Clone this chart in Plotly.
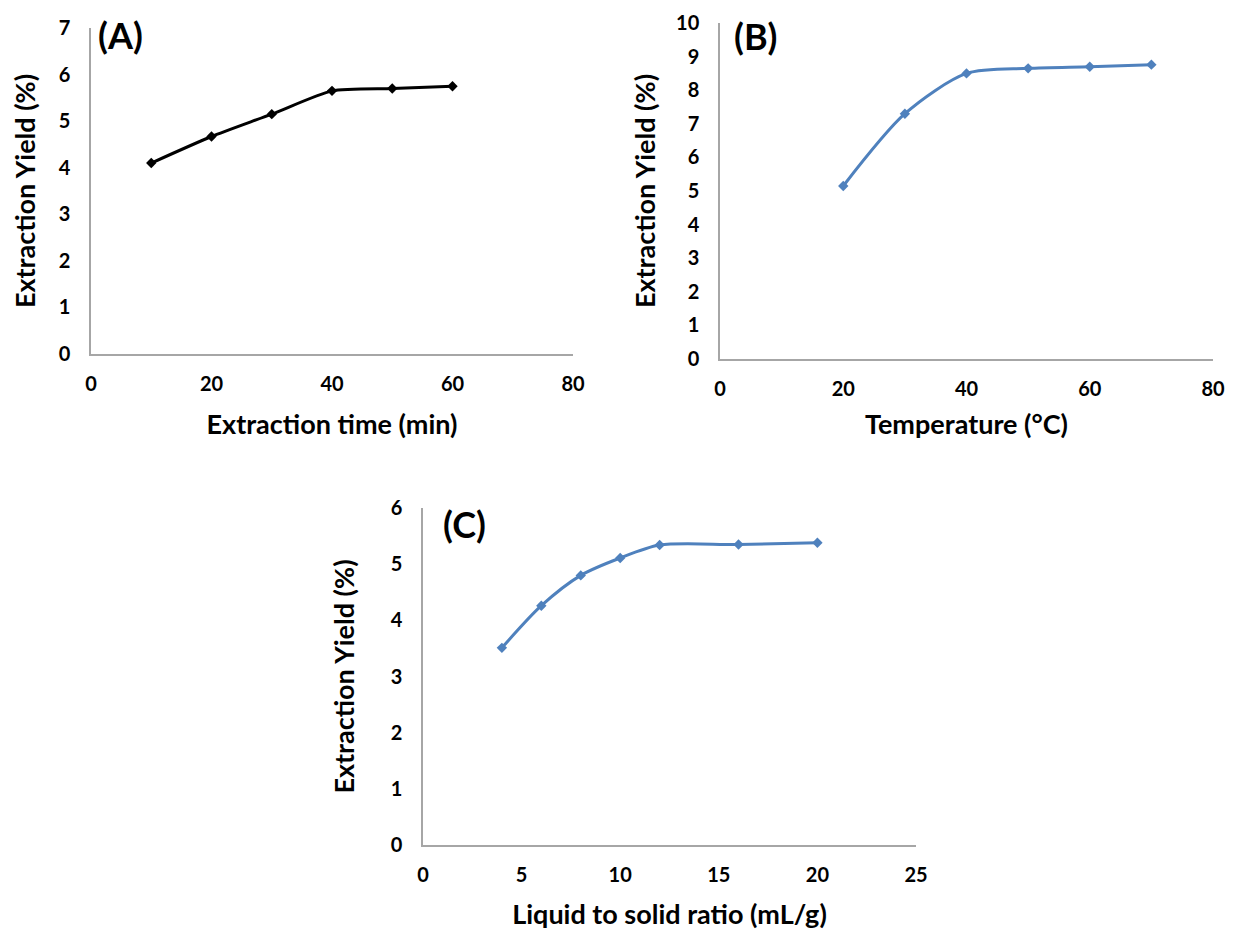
import plotly.graph_objects as go

# Panel A: extraction time
time_min = [10, 20, 30, 40, 50, 60]
yield_time = [4.1, 4.67, 5.15, 5.65, 5.7, 5.75]

# Panel B: temperature
temp_c = [20, 30, 40, 50, 60, 70]
yield_temp = [5.15, 7.3, 8.5, 8.65, 8.7, 8.76]

# Panel C: liquid to solid ratio
ratio = [4, 6, 8, 10, 12, 16, 20]
yield_ratio = [3.51, 4.26, 4.8, 5.11, 5.34, 5.35, 5.38]

FONT = "Lato"
BLUE = "#4F81BD"
AXC = "#A6A6A6"

fig = go.Figure()
fig.add_trace(go.Scatter(x=time_min, y=yield_time, mode="lines+markers",
                         line=dict(color="black", width=3, shape="spline", smoothing=0.6),
                         marker=dict(symbol="diamond", size=8, color="black"),
                         xaxis="x", yaxis="y", showlegend=False))
fig.add_trace(go.Scatter(x=temp_c, y=yield_temp, mode="lines+markers",
                         line=dict(color=BLUE, width=3, shape="spline", smoothing=0.8),
                         marker=dict(symbol="diamond", size=8, color=BLUE),
                         xaxis="x2", yaxis="y2", showlegend=False))
fig.add_trace(go.Scatter(x=ratio, y=yield_ratio, mode="lines+markers",
                         line=dict(color=BLUE, width=3, shape="spline", smoothing=0.8),
                         marker=dict(symbol="diamond", size=8, color=BLUE),
                         xaxis="x3", yaxis="y3", showlegend=False))

# the page body adds an 8px margin; size the figure so it fits the window
OFF = 8
W, H = 1233 - OFF, 932 - OFF
def xd(a, b):
    return [(a - OFF) / W, (b - OFF) / W]
def yd(top, bottom):
    return [1 - (bottom - OFF) / H, 1 - (top - OFF) / H]
def px(x):
    return (x - OFF) / W
def py(y):
    return 1 - (y - OFF) / H

tickfont = dict(family=FONT, size=20, color="black", weight="bold")
titlefont = dict(family=FONT, size=27, color="black", weight="bold")

def xaxis(dom, rng, dtick, title, anchor, standoff):
    return dict(domain=dom, range=rng, dtick=dtick, anchor=anchor, automargin=False,
                showline=True, linecolor=AXC, linewidth=1.5, showgrid=False, zeroline=False,
                ticks="outside", ticklen=11, tickcolor="rgba(0,0,0,0)",
                ticklabeloverflow="allow",
                tickfont=tickfont, title=dict(text=title, font=titlefont, standoff=standoff),
                fixedrange=True)

def yaxis(dom, rng, title, anchor, standoff):
    return dict(domain=dom, range=rng, dtick=1, anchor=anchor, automargin=False,
                showline=True, linecolor=AXC, linewidth=1.5, showgrid=False, zeroline=False,
                ticks="outside", ticklen=15, tickcolor="rgba(0,0,0,0)",
                ticklabeloverflow="allow",
                tickfont=tickfont, title=dict(text=title, font=titlefont, standoff=standoff),
                fixedrange=True)

ytitle = "Extraction Yield (%)"
labfont = dict(family=FONT, size=36, color="black", weight="bold")
fig.update_layout(
    width=W, height=H, margin=dict(l=0, r=0, t=0, b=0),
    paper_bgcolor="white", plot_bgcolor="white",
    xaxis=xaxis(xd(91, 573), [0, 80], 20, "Extraction time (min)", "y", 21),
    yaxis=yaxis(yd(28, 354), [0, 7], ytitle, "x", 22),
    xaxis2=xaxis(xd(720, 1213), [0, 80], 20, "Temperature (°C)", "y2", 16),
    yaxis2=yaxis(yd(23, 359), [0, 10], ytitle, "x2", 13),
    xaxis3=xaxis(xd(423, 916), [0, 25], 5, "Liquid to solid ratio (mL/g)", "y3", 20),
    yaxis3=yaxis(yd(508, 845), [0, 6], ytitle, "x3", 28),
    annotations=[
        dict(text="(A)", x=px(96), y=py(35), xref="paper", yref="paper", xanchor="left",
             yanchor="middle", showarrow=False, font=labfont),
        dict(text="(B)", x=px(732), y=py(36), xref="paper", yref="paper", xanchor="left",
             yanchor="middle", showarrow=False, font=labfont),
        dict(text="(C)", x=px(441), y=py(524), xref="paper", yref="paper", xanchor="left",
             yanchor="middle", showarrow=False, font=labfont),
    ],
    font=dict(family=FONT, weight="bold"),
)

fig.write_html("out.html")
